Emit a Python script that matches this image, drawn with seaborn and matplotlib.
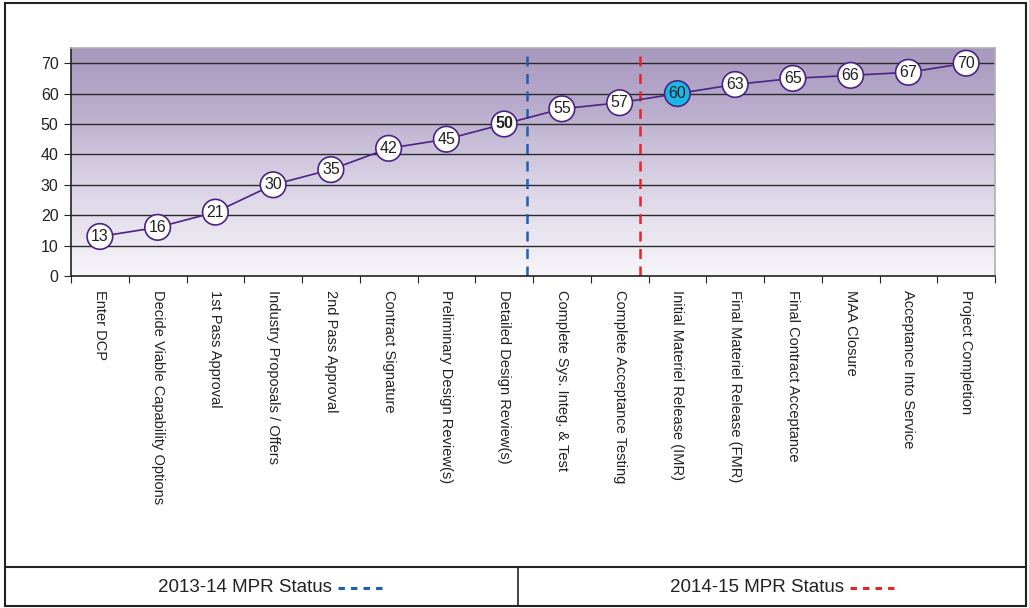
import numpy as np
import pandas as pd
import matplotlib
matplotlib.use("Agg")
import matplotlib.pyplot as plt
from matplotlib.colors import LinearSegmentedColormap
from matplotlib.lines import Line2D
from matplotlib.patches import Rectangle
import seaborn as sns

milestones = [
    "Enter DCP", "Decide Viable Capability Options", "1st Pass Approval",
    "Industry Proposals / Offers", "2nd Pass Approval", "Contract Signature",
    "Preliminary Design Review(s)", "Detailed Design Review(s)",
    "Complete Sys. Integ. & Test", "Complete Acceptance Testing",
    "Initial Materiel Release (IMR)", "Final Materiel Release (FMR)",
    "Final Contract Acceptance", "MAA Closure", "Acceptance Into Service",
    "Project Completion",
]
scores = [13, 16, 21, 30, 35, 42, 45, 50, 55, 57, 60, 63, 65, 66, 67, 70]
status_labels = ["2013-14 MPR Status", "2014-15 MPR Status"]
status_positions = [7.4, 9.35]
status_colors = ["#1f5fb0", "#e8232a"]
y_ticks = [0, 10, 20, 30, 40, 50, 60, 70]

sns.set_style("ticks")
plt.rcParams["font.family"] = ["Liberation Sans", "DejaVu Sans"]

df = pd.DataFrame({"pos": np.arange(len(milestones)), "score": scores})

W, H = 1029, 608
fig = plt.figure(figsize=(W / 100, H / 100), dpi=100)
ax = fig.add_axes([71 / W, 1 - 276 / H, (995 - 71) / W, (276 - 48) / H])

# vertical gradient backdrop
cmap = LinearSegmentedColormap.from_list(
    "bg", [(0.0, "#f7f6fa"), (0.45, "#d6cee2"), (0.75, "#b8abcb"), (1.0, "#a898be")])
grad = np.linspace(0, 1, 256).reshape(-1, 1)
ax.imshow(grad, extent=[-0.5, 15.5, 0, 75], origin="lower", aspect="auto",
          cmap=cmap, zorder=0)

for y in y_ticks[1:]:
    ax.axhline(y, color="#2a2a2a", lw=1.0, zorder=1)

for xp, c in zip(status_positions, status_colors):
    ax.axvline(xp, color=c, lw=1.8, ls=(0, (4, 3)), zorder=2)

sns.lineplot(data=df, x="pos", y="score", ax=ax, color="#4b2384", lw=1.2,
             zorder=3)

face = ["white"] * len(scores)
face[10] = "#1ab8e6"
ax.scatter(df["pos"], df["score"], s=340, c=face, edgecolors="#4b2384",
           linewidths=1.2, zorder=4)
for i, v in enumerate(scores):
    ax.text(i, v, str(v), ha="center", va="center", fontsize=11.5,
            color="#222222", fontweight="bold" if v == 50 else "normal",
            zorder=5)

ax.set_xlim(-0.5, 15.5)
ax.set_ylim(0, 75)
ax.set_yticks(y_ticks)
ax.set_yticklabels([str(t) for t in y_ticks], fontsize=11.5, color="#222222")
ax.set_xticks(np.arange(-0.5, 16, 1), minor=False)
ax.set_xticklabels([])
ax.set_xticks(np.arange(len(milestones)), minor=True)
ax.set_xticklabels(milestones, minor=True, rotation=270, fontsize=10.5,
                   color="#222222", va="top", ha="center")
ax.tick_params(axis="x", which="minor", length=0, pad=10)
ax.tick_params(axis="x", which="major", length=5, color="#222222")
ax.tick_params(axis="y", length=5, color="#222222", pad=4)
ax.set_xlabel("")
ax.set_ylabel("")
for s in ["left", "bottom"]:
    ax.spines[s].set_color("#222222")
    ax.spines[s].set_linewidth(1.2)
for s in ["top", "right"]:
    ax.spines[s].set_visible(True)
    ax.spines[s].set_color("#b0b0b0")
    ax.spines[s].set_linewidth(1.2)

# outer frame and status footer
def fx(px):
    return px / W

def fy(py):
    return 1 - py / H

fig.add_artist(Rectangle((fx(5), fy(606)), fx(1026) - fx(5), fy(3) - fy(606),
                         fill=False, ec="#222222", lw=1.5,
                         transform=fig.transFigure))
fig.add_artist(Line2D([fx(5), fx(1026)], [fy(567), fy(567)], color="#222222",
                      lw=1.5, transform=fig.transFigure))
fig.add_artist(Line2D([fx(518), fx(518)], [fy(567), fy(606)], color="#222222",
                      lw=1.2, transform=fig.transFigure))

text_right = [332, 844]
for lbl, xr, c in zip(status_labels, text_right, status_colors):
    fig.text(fx(xr), fy(587), lbl, ha="right", va="center", fontsize=13.5,
             color="#222222")
    fig.add_artist(Line2D([fx(xr + 6), fx(xr + 51)], [fy(588), fy(588)],
                          color=c, lw=2.2, ls=(0, (2.1, 2.0)),
                          solid_capstyle="butt", dash_capstyle="butt",
                          transform=fig.transFigure))

fig.savefig("out.png", dpi=100)
